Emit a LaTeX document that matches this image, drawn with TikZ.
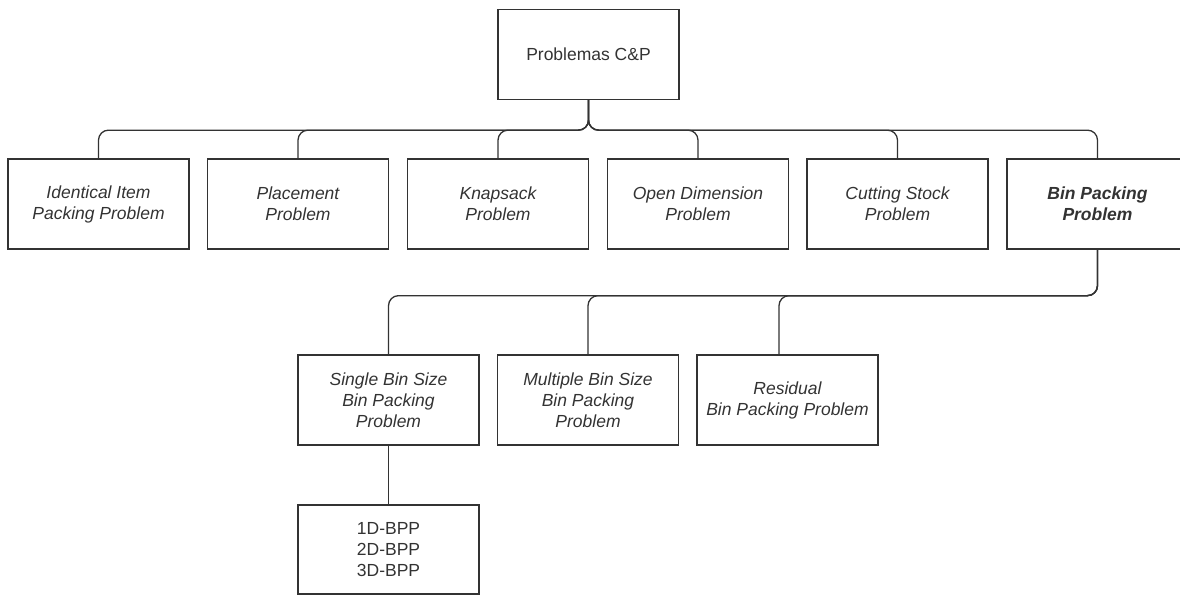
\documentclass[tikz,border=0pt]{standalone}
\usepackage{fontspec}
\setmainfont{Liberation Sans}
\definecolor{ink}{HTML}{333333}
\begin{document}
\begin{tikzpicture}[x=1pt,y=-1pt,
  box/.style={draw=ink, line width=1.3pt, rectangle, minimum width=181pt, minimum height=90pt,
    inner sep=0pt, align=center, text=ink, font=\fontsize{17.5}{21}\selectfont},
  ibox/.style={box, font=\fontsize{17.5}{21}\selectfont\itshape},
  edge/.style={draw=ink, line width=1.3pt, rounded corners=10pt}]
\useasboundingbox (0,0) rectangle (1180,595);
\node[box] (root) at (588.5,54.5) {Problemas C\&P};
\node[ibox] (iipp) at (98.5,204) {Identical Item\\Packing Problem};
\node[ibox] (pp) at (298,204) {Placement\\Problem};
\node[ibox] (kp) at (498,204) {Knapsack\\Problem};
\node[ibox] (odp) at (698,204) {Open Dimension\\Problem};
\node[ibox] (csp) at (897.5,204) {Cutting Stock\\Problem};
\node[ibox, font=\fontsize{17.5}{21}\selectfont\bfseries\itshape] (bpp) at (1097.5,204) {Bin Packing\\Problem};
\node[ibox] (sbs) at (388.5,400) {Single Bin Size\\Bin Packing\\Problem};
\node[ibox] (mbs) at (588,400) {Multiple Bin Size\\Bin Packing\\Problem};
\node[ibox] (rbp) at (787.5,400) {Residual\\Bin Packing Problem};
\node[box, minimum height=89pt] (dims) at (388.5,549.5) {1D-BPP\\2D-BPP\\3D-BPP};
\foreach \c in {iipp,pp,kp,odp,csp,bpp}
  \draw[edge] (root.south) -- ++(0,30) -| (\c.north);
\draw[edge] (bpp.south) -- ++(0,46) -| (sbs.north);
\draw[edge] (bpp.south) -- ++(0,46) -| (mbs.north);
\draw[edge] (bpp.south) -- ++(0,46) -| ([xshift=-8.5pt]rbp.north);
\draw[edge] (sbs.south) -- (dims.north);
\end{tikzpicture}
\end{document}
